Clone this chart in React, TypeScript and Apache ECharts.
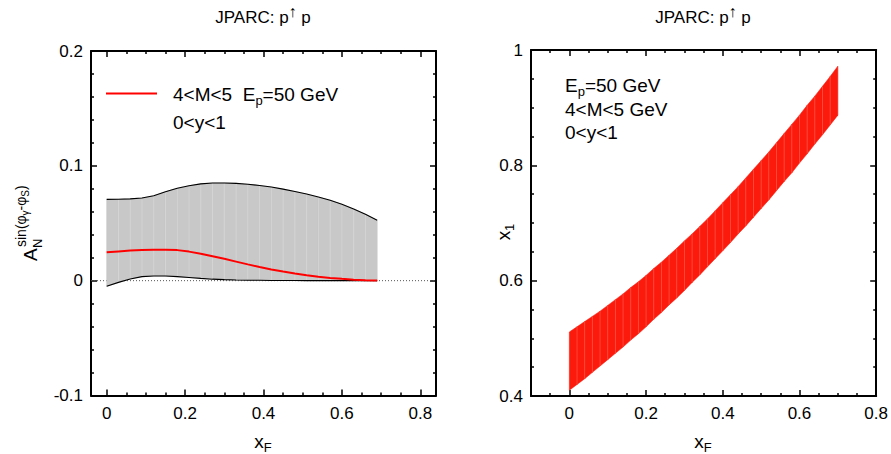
import React, { useEffect, useRef } from "react";
import * as echarts from "echarts";

const FONT = "Liberation Sans, Arial, Helvetica, sans-serif";

// ---- Left panel data (A_N vs x_F) ----
const leftX = [0, 0.03, 0.06, 0.09, 0.12, 0.15, 0.18, 0.21, 0.24, 0.27, 0.3, 0.33, 0.36, 0.39, 0.42, 0.45, 0.48, 0.51, 0.54, 0.57, 0.6, 0.63, 0.66, 0.69];
const leftUpper = [0.0708, 0.0709, 0.0712, 0.072, 0.074, 0.0775, 0.0805, 0.0827, 0.0843, 0.085, 0.0851, 0.0847, 0.084, 0.0829, 0.0815, 0.0797, 0.0777, 0.0754, 0.0728, 0.07, 0.0665, 0.0625, 0.0578, 0.0526];
const leftLower = [-0.0049, -0.0015, 0.0015, 0.0035, 0.0041, 0.004, 0.0035, 0.0028, 0.002, 0.0013, 0.0009, 0.0006, 0.0004, 0.0003, 0.0002, 0.0001, 0.0001, 0, 0, 0, 0, 0, 0, 0];
const leftCentral = [0.0247, 0.0255, 0.0262, 0.0266, 0.0269, 0.027, 0.0266, 0.0253, 0.0235, 0.0213, 0.019, 0.0166, 0.0142, 0.0119, 0.0098, 0.0079, 0.0062, 0.0047, 0.0034, 0.0024, 0.0016, 0.0009, 0.0004, 0.0002];

// ---- Right panel data (x_1 vs x_F) ----
const rightX = [0, 0.02, 0.04, 0.06, 0.08, 0.1, 0.12, 0.14, 0.16, 0.18, 0.2, 0.22, 0.24, 0.26, 0.28, 0.3, 0.32, 0.34, 0.36, 0.38, 0.4, 0.42, 0.44, 0.46, 0.48, 0.5, 0.52, 0.54, 0.56, 0.58, 0.6, 0.62, 0.64, 0.66, 0.68, 0.7];
const rightUpper = [0.511, 0.52, 0.529, 0.538, 0.547, 0.557, 0.567, 0.577, 0.588, 0.598, 0.609, 0.621, 0.632, 0.644, 0.656, 0.669, 0.681, 0.694, 0.707, 0.721, 0.735, 0.749, 0.763, 0.778, 0.793, 0.808, 0.823, 0.839, 0.855, 0.871, 0.887, 0.904, 0.92, 0.937, 0.954, 0.972];
const rightLower = [0.41, 0.42, 0.43, 0.441, 0.452, 0.463, 0.474, 0.485, 0.497, 0.508, 0.52, 0.533, 0.545, 0.558, 0.57, 0.583, 0.597, 0.61, 0.624, 0.638, 0.652, 0.666, 0.681, 0.695, 0.71, 0.725, 0.74, 0.756, 0.772, 0.787, 0.804, 0.82, 0.837, 0.853, 0.87, 0.887];

// ---- Tick values ----
const leftXMajor = [0, 0.2, 0.4, 0.6, 0.8];
const leftXMinor = [0.05, 0.1, 0.15, 0.25, 0.3, 0.35, 0.45, 0.5, 0.55, 0.65, 0.7, 0.75];
const leftYMajor = [-0.1, 0, 0.1, 0.2];
const leftYMinor = [-0.08, -0.06, -0.04, -0.02, 0.02, 0.04, 0.06, 0.08, 0.12, 0.14, 0.16, 0.18];
const rightXMajor = [0, 0.2, 0.4, 0.6, 0.8];
const rightXMinor = [-0.05, 0.05, 0.1, 0.15, 0.25, 0.3, 0.35, 0.45, 0.5, 0.55, 0.65, 0.7, 0.75];
const rightYMajor = [0.4, 0.6, 0.8, 1.0];
const rightYMinor = [0.45, 0.5, 0.55, 0.65, 0.7, 0.75, 0.85, 0.9, 0.95];

const fmt = (v: number) => String(Math.round(v * 100) / 100);

function makeAxes(dim: "x" | "y", gridIndex: number, min: number, max: number, majors: number[], minors: number[]) {
  const posA = dim === "x" ? "bottom" : "left";
  const posB = dim === "x" ? "top" : "right";
  const base = { type: "value", gridIndex, min, max, splitLine: { show: false }, silent: true };
  const tickStyle = { color: "#000", width: 1.5 };
  const major = (pos: string, labels: boolean) => ({
    ...base,
    position: pos,
    axisLine: { show: true, onZero: false, lineStyle: { color: "#000", width: 2 } },
    axisTick: { show: true, inside: true, length: 6, customValues: majors, lineStyle: tickStyle },
    axisLabel: {
      show: labels,
      customValues: majors,
      margin: dim === "x" ? 9 : 8,
      fontSize: 17,
      fontFamily: FONT,
      color: "#000",
      formatter: fmt,
    },
  });
  const minor = (pos: string) => ({
    ...base,
    position: pos,
    axisLine: { show: false, onZero: false },
    axisTick: { show: true, inside: true, length: 3, customValues: minors, lineStyle: tickStyle },
    axisLabel: { show: false },
  });
  return [major(posA, true), minor(posA), major(posB, false), minor(posB)];
}

function bandSeries(xs: number[], lo: number[], hi: number[], axisIndex: number, fill: string, stripe: string) {
  return {
    type: "custom",
    xAxisIndex: axisIndex,
    yAxisIndex: axisIndex,
    z: 1,
    silent: true,
    encode: { x: 0, y: [1, 2] },
    data: xs.map((x, i) => [x, lo[i], hi[i]]),
    renderItem: (params: any, api: any) => {
      const i = params.dataIndex;
      if (i >= xs.length - 1) return null;
      const p0 = api.coord([xs[i], hi[i]]);
      const p1 = api.coord([xs[i + 1], hi[i + 1]]);
      const p2 = api.coord([xs[i + 1], lo[i + 1]]);
      const p3 = api.coord([xs[i], lo[i]]);
      const children: any[] = [
        { type: "polygon", shape: { points: [p0, p1, p2, p3] }, style: { fill, stroke: fill, lineWidth: 0.6 } },
      ];
      if (i > 0) {
        children.push({ type: "line", shape: { x1: p0[0], y1: p0[1], x2: p3[0], y2: p3[1] }, style: { stroke: stripe, lineWidth: 0.7 } });
      }
      return { type: "group", children };
    },
  };
}

const txt = (extra: any) => ({ fontFamily: FONT, fill: "#000", ...extra });

export default function App() {
  const ref = useRef<HTMLDivElement>(null);
  useEffect(() => {
    if (!ref.current) return;
    const chart = echarts.init(ref.current, null, { renderer: "svg" });
    const subRich = {
      s: { fontFamily: FONT, fontSize: 13, fill: "#000", color: "#000", verticalAlign: "bottom", lineHeight: 25 },
      m: { fontFamily: FONT, fontSize: 19, fill: "#000", color: "#000", lineHeight: 25 },
    };
    const titleRich = {
      m: { fontFamily: FONT, fontSize: 17, fill: "#000", color: "#000", lineHeight: 28 },
      up: { fontFamily: FONT, fontSize: 16, fill: "#000", color: "#000", verticalAlign: "top", lineHeight: 28 },
    };
    const option: any = {
      animation: false,
      backgroundColor: "#fff",
      grid: [
        { left: 91, top: 51, width: 345, height: 344.5 },
        { left: 531, top: 50, width: 346, height: 346 },
      ],
      xAxis: [
        ...makeAxes("x", 0, -0.04, 0.84, leftXMajor, leftXMinor),
        ...makeAxes("x", 1, -0.1, 0.8, rightXMajor, rightXMinor),
      ],
      yAxis: [
        ...makeAxes("y", 0, -0.1, 0.2, leftYMajor, leftYMinor),
        ...makeAxes("y", 1, 0.4, 1.0, rightYMajor, rightYMinor),
      ],
      series: [
        {
          type: "line",
          xAxisIndex: 0,
          yAxisIndex: 0,
          z: 0,
          silent: true,
          showSymbol: false,
          data: [[-0.04, 0], [0.84, 0]],
          lineStyle: { color: "#555", width: 1, type: [1, 2] },
        },
        bandSeries(leftX, leftLower, leftUpper, 0, "#c8c8c8", "#d9d9d9"),
        {
          type: "line",
          xAxisIndex: 0,
          yAxisIndex: 0,
          z: 3,
          silent: true,
          showSymbol: false,
          data: leftX.map((x, i) => [x, leftUpper[i]]),
          lineStyle: { color: "#000", width: 1.1 },
        },
        {
          type: "line",
          xAxisIndex: 0,
          yAxisIndex: 0,
          z: 3,
          silent: true,
          showSymbol: false,
          data: leftX.map((x, i) => [x, leftLower[i]]),
          lineStyle: { color: "#000", width: 1.1 },
        },
        {
          type: "line",
          xAxisIndex: 0,
          yAxisIndex: 0,
          z: 4,
          silent: true,
          showSymbol: false,
          data: leftX.map((x, i) => [x, leftCentral[i]]),
          lineStyle: { color: "#ff0000", width: 2 },
        },
        bandSeries(rightX, rightLower, rightUpper, 4, "#fb1a0c", "#ff5a4a"),
      ],
      graphic: [
        // titles
        {
          type: "text",
          x: 263,
          y: 17,
          style: txt({ text: "{m|JPARC: p}{up|↑}{m| p}", rich: titleRich, align: "center", verticalAlign: "middle" }),
        },
        {
          type: "text",
          x: 703,
          y: 17,
          style: txt({ text: "{m|JPARC: p}{up|↑}{m| p}", rich: titleRich, align: "center", verticalAlign: "middle" }),
        },
        // legend left
        { type: "line", shape: { x1: 106, y1: 93.5, x2: 157, y2: 93.5 }, style: { stroke: "#ff0000", lineWidth: 2 } },
        {
          type: "text",
          x: 173,
          y: 94,
          style: txt({ text: "{m|4<M<5  E}{s|p}{m|=50 GeV}", rich: subRich, align: "left", verticalAlign: "middle" }),
        },
        { type: "text", x: 173, y: 122, style: txt({ text: "0<y<1", fontSize: 19, align: "left", verticalAlign: "middle" }) },
        // right texts
        {
          type: "text",
          x: 565,
          y: 85,
          style: txt({ text: "{m|E}{s|p}{m|=50 GeV}", rich: subRich, align: "left", verticalAlign: "middle" }),
        },
        { type: "text", x: 565, y: 109, style: txt({ text: "4<M<5 GeV", fontSize: 19, align: "left", verticalAlign: "middle" }) },
        { type: "text", x: 565, y: 132, style: txt({ text: "0<y<1", fontSize: 19, align: "left", verticalAlign: "middle" }) },
        // x axis names
        {
          type: "text",
          x: 263,
          y: 441,
          style: txt({ text: "{m|x}{s|F}", rich: subRich, align: "center", verticalAlign: "middle" }),
        },
        {
          type: "text",
          x: 703,
          y: 441,
          style: txt({ text: "{m|x}{s|F}", rich: subRich, align: "center", verticalAlign: "middle" }),
        },
        // right y name
        {
          type: "text",
          x: 503,
          y: 232,
          rotation: Math.PI / 2,
          style: txt({ text: "{m|x}{s|1}", rich: subRich, align: "center", verticalAlign: "middle" }),
        },
        // left y name
        {
          type: "group",
          x: 40,
          y: 261,
          rotation: Math.PI / 2,
          children: [
            { type: "text", x: 0, y: 0, style: txt({ text: "A", fontSize: 19, align: "left", verticalAlign: "bottom" }) },
            { type: "text", x: 13, y: 4, style: txt({ text: "N", fontSize: 13, align: "left", verticalAlign: "bottom" }) },
            {
              type: "text",
              x: 14,
              y: -10,
              style: txt({
                text: "{a|sin(φ}{g|γ}{a|-φ}{g|S}{a|)}",
                align: "left",
                verticalAlign: "bottom",
                rich: {
                  a: { fontFamily: FONT, fontSize: 14, fill: "#000", color: "#000", lineHeight: 18 },
                  g: { fontFamily: FONT, fontSize: 10, fill: "#000", color: "#000", verticalAlign: "bottom", lineHeight: 18 },
                },
              }),
            },
          ],
        },
      ],
    };
    chart.setOption(option);
    return () => chart.dispose();
  }, []);
  return <div ref={ref} style={{ position: "fixed", left: 0, top: 0, width: 891, height: 454 }} />;
}
